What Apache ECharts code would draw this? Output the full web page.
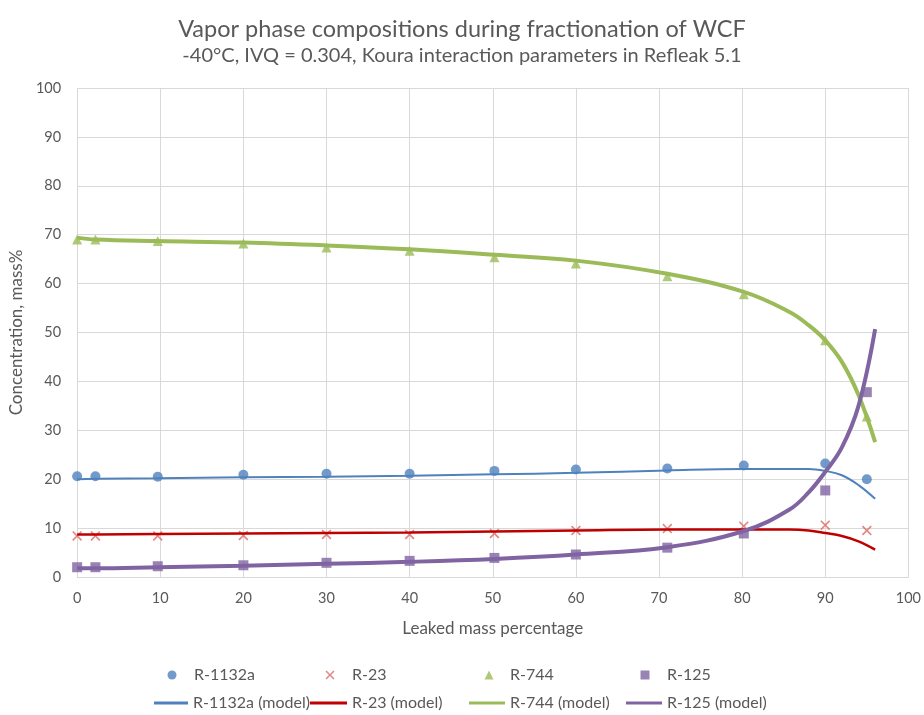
<!DOCTYPE html>
<html>
<head>
<meta charset="utf-8">
<script src="https://cdn.jsdelivr.net/npm/echarts@6/dist/echarts.min.js"></script>
<style>
  html, body { margin: 0; padding: 0; background: #fff; }
  #chart { width: 924px; height: 715px; }
</style>
</head>
<body>
<div id="chart"></div>
<script>
// Measured vapor compositions (mass%) vs leaked mass percentage
const measX = [0, 2.2, 9.7, 20, 30, 40, 50.2, 60, 71, 80.2, 90, 95];
const r1132a = [20.6, 20.6, 20.5, 20.9, 21.1, 21.1, 21.7, 22.0, 22.2, 22.8, 23.2, 20.0];
const r23 = [8.4, 8.4, 8.4, 8.5, 8.7, 8.7, 8.9, 9.5, 9.9, 10.4, 10.6, 9.5];
const r744 = [69.0, 69.0, 68.7, 68.2, 67.4, 66.7, 65.4, 64.1, 61.5, 57.8, 48.4, 32.8];
const r125 = [2.0, 2.0, 2.2, 2.4, 2.9, 3.3, 3.9, 4.6, 6.0, 8.9, 17.7, 37.8];

// Refleak model curves
const modelX = [0, 2.2, 9.7, 20, 30, 40, 50.2, 60, 71, 80.2, 85.7, 88, 90, 92, 94, 96];
const r1132aModel = [20.0, 20.1, 20.2, 20.4, 20.5, 20.7, 21.0, 21.3, 21.8, 22.1, 22.1, 22.1, 21.7, 20.8, 18.8, 16.0];
const r23Model = [8.7, 8.7, 8.8, 8.9, 9.0, 9.1, 9.3, 9.5, 9.7, 9.7, 9.7, 9.5, 9.0, 8.4, 7.3, 5.6];
const r744Model = [69.4, 69.0, 68.7, 68.4, 67.8, 67.0, 65.9, 64.7, 62.0, 58.3, 54.2, 51.5, 48.4, 44.0, 37.2, 27.6];
const r125Model = [1.8, 1.8, 2.0, 2.3, 2.7, 3.1, 3.7, 4.6, 6.1, 9.4, 13.8, 17.3, 21.5, 26.5, 35.0, 50.7];

const xTicks = [0, 10, 20, 30, 40, 50, 60, 70, 80, 90, 100];
const yTicks = [0, 10, 20, 30, 40, 50, 60, 70, 80, 90, 100];

const scatterNames = ['R-1132a', 'R-23', 'R-744', 'R-125'];
const lineNames = ['R-1132a (model)', 'R-23 (model)', 'R-744 (model)', 'R-125 (model)'];

const pairs = (xs, ys) => xs.map((x, i) => [x, ys[i]]);

const FONT = 'Lato, "Open Sans", sans-serif';
const TXT = '#595959';
const GRID = '#d9d9d9';
const COLORS = { blue: '#4f81bd', red: '#db6a66', darkRed: '#c00000', green: '#9bbb59', purple: '#8064a2' };
// thin "x" cross drawn as a filled polygon
const CROSS = 'path://M0,1.2L1.2,0L5,3.8L8.8,0L10,1.2L6.2,5L10,8.8L8.8,10L5,6.2L1.2,10L0,8.8L3.8,5Z';

const markerIcons = ['circle', CROSS, 'triangle', 'rect'];

// Legend layout: one small legend per entry, laid out in two rows
const markerLegendPos = [167.5, 325.5, 484.5, 640.5];
const markerLegendPad = [12.5, 12.5, 11.5, 12.5];
const lineLegendPos = [154, 310, 469, 626];
const lineLegendWidth = [34, 37, 36, 36];

const legends = [];
scatterNames.forEach((n, i) => {
  legends.push({
    data: [{ name: n, icon: markerIcons[i] }],
    left: markerLegendPos[i], top: 667, padding: 0,
    itemWidth: 9, itemHeight: 9,
    textStyle: { fontFamily: FONT, fontSize: 16, color: TXT, padding: [0, 0, 0, markerLegendPad[i]] }
  });
});
lineNames.forEach((n, i) => {
  legends.push({
    data: [{ name: n, icon: 'rect' }],
    left: lineLegendPos[i], top: 695, padding: 0,
    itemWidth: lineLegendWidth[i], itemHeight: 3,
    textStyle: { fontFamily: FONT, fontSize: 16, color: TXT }
  });
});

const chart = echarts.init(document.getElementById('chart'), null, { renderer: 'canvas' });

chart.setOption({
  animation: false,
  backgroundColor: '#ffffff',
  textStyle: { fontFamily: FONT },
  title: [
    {
      text: 'Vapor phase compositions during fractionation of WCF',
      left: 'center', top: 12,
      textStyle: { fontFamily: FONT, fontSize: 23.5, fontWeight: 'normal', color: TXT }
    },
    {
      text: '-40°C, IVQ = 0.304, Koura interaction parameters in Refleak 5.1',
      left: 'center', top: 41,
      textStyle: { fontFamily: FONT, fontSize: 20, fontWeight: 'normal', color: TXT }
    }
  ],
  grid: { left: 74, right: 15, top: 88, bottom: 138, containLabel: false },
  legend: legends,
  xAxis: {
    type: 'value', min: 0, max: 100, interval: 10,
    name: 'Leaked mass percentage', nameLocation: 'middle', nameGap: 43,
    nameTextStyle: { fontFamily: FONT, fontSize: 17, color: TXT },
    axisLine: { show: true, lineStyle: { color: GRID, width: 1 } },
    axisTick: { show: false },
    axisLabel: { fontFamily: FONT, fontSize: 14.5, color: TXT, margin: 14,
      formatter: v => xTicks.includes(v) ? String(v) : '' },
    splitLine: { show: true, lineStyle: { color: GRID, width: 1 } }
  },
  yAxis: {
    type: 'value', min: 0, max: 100, interval: 10,
    name: 'Concentration, mass%', nameLocation: 'middle', nameGap: 46, nameRotate: 90,
    nameTextStyle: { fontFamily: FONT, fontSize: 17, color: TXT },
    axisLine: { show: false },
    axisTick: { show: false },
    axisLabel: { fontFamily: FONT, fontSize: 14.5, color: TXT, margin: 16,
      formatter: v => yTicks.includes(v) ? String(v) : '' },
    splitLine: { show: true, lineStyle: { color: GRID, width: 1 } }
  },
  series: [
    { name: 'R-1132a', type: 'scatter', data: pairs(measX, r1132a),
      symbol: 'circle', symbolSize: 10, itemStyle: { color: COLORS.blue }, z: 2 },
    { name: 'R-23', type: 'scatter', data: pairs(measX, r23),
      symbol: CROSS, symbolSize: 10, itemStyle: { color: COLORS.red }, z: 2 },
    { name: 'R-744', type: 'scatter', data: pairs(measX, r744),
      symbol: 'triangle', symbolSize: 10, itemStyle: { color: COLORS.green }, z: 2 },
    { name: 'R-125', type: 'scatter', data: pairs(measX, r125),
      symbol: 'rect', symbolSize: 10, itemStyle: { color: COLORS.purple }, z: 2 },
    { name: 'R-1132a (model)', type: 'line', data: pairs(modelX, r1132aModel),
      smooth: 0.4, symbol: 'none', lineStyle: { color: COLORS.blue, width: 2 },
      itemStyle: { color: COLORS.blue }, z: 3 },
    { name: 'R-23 (model)', type: 'line', data: pairs(modelX, r23Model),
      smooth: 0.4, symbol: 'none', lineStyle: { color: COLORS.darkRed, width: 2.5 },
      itemStyle: { color: COLORS.darkRed }, z: 3 },
    { name: 'R-744 (model)', type: 'line', data: pairs(modelX, r744Model),
      smooth: 0.4, symbol: 'none', lineStyle: { color: COLORS.green, width: 4 },
      itemStyle: { color: COLORS.green }, z: 3 },
    { name: 'R-125 (model)', type: 'line', data: pairs(modelX, r125Model),
      smooth: 0.4, symbol: 'none', lineStyle: { color: COLORS.purple, width: 4 },
      itemStyle: { color: COLORS.purple }, z: 3 }
  ]
});
</script>
</body>
</html>
